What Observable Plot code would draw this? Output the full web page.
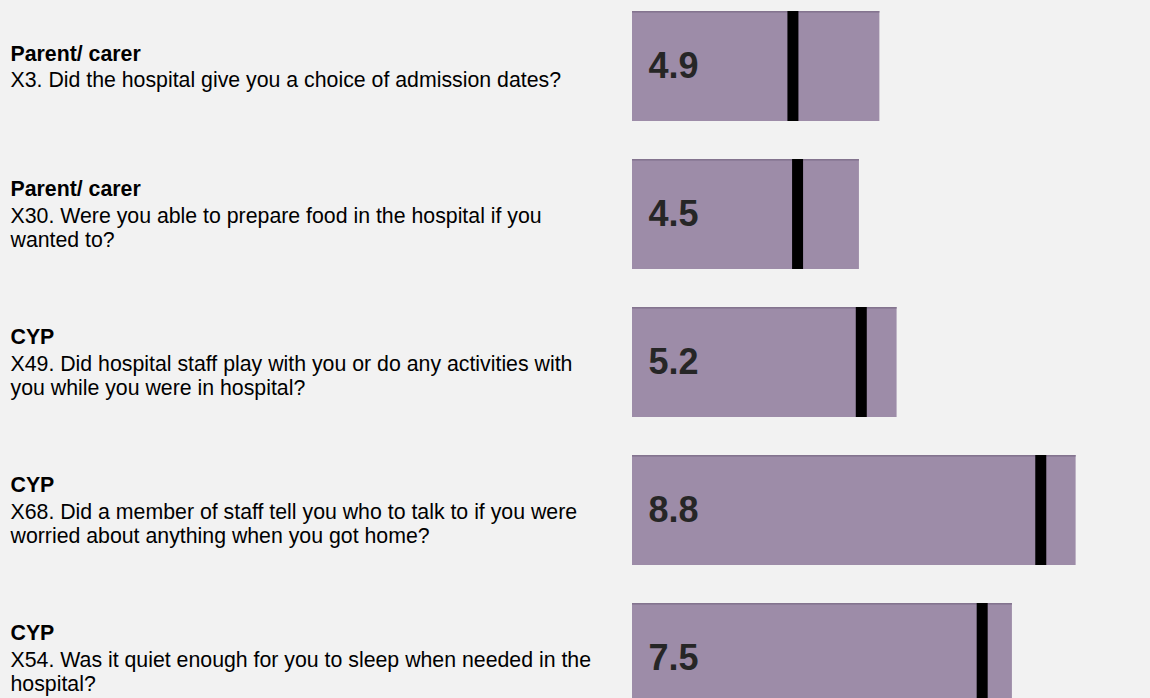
<!DOCTYPE html>
<html>
<head>
<meta charset="utf-8">
<script src="https://cdn.jsdelivr.net/npm/d3@7"></script>
<script src="https://cdn.jsdelivr.net/npm/@observablehq/plot@0.6"></script>
<style>
  html, body { margin: 0; padding: 0; background: #f2f2f2; overflow: hidden; }
</style>
</head>
<body>
<div id="chart"></div>
<script>
// ---- Data ----
const groups = ["Parent/ carer", "Parent/ carer", "CYP", "CYP", "CYP"];
const questions = [
  "X3. Did the hospital give you a choice of admission dates?",
  "X30. Were you able to prepare food in the hospital if you\nwanted to?",
  "X49. Did hospital staff play with you or do any activities with\nyou while you were in hospital?",
  "X68. Did a member of staff tell you who to talk to if you were\nworried about anything when you got home?",
  "X54. Was it quiet enough for you to sleep when needed in the\nhospital?"
];
const scores = [4.9, 4.5, 5.2, 8.8, 7.5];          // value labels
const rangeMax = [5.32, 4.88, 5.69, 9.54, 8.17];   // bar extent
const markers = [3.45, 3.55, 4.92, 8.78, 7.52];    // black marker position

const rows = groups.map((g, i) => ({
  id: i, group: g, question: questions[i],
  score: scores[i], max: rangeMax[i], marker: markers[i]
}));

// ---- Layout ----
const W = 1150, H = 698;
const marginLeft = 632;
const textLeft = 10;
const dxText = textLeft - marginLeft;
const fontSize = 21.3;
const lineStep = 25;
const fontFam = "'Liberation Sans', Arial, Helvetica, sans-serif";
const step = 148.1, padInner = 0.26;
const bandH = step * (1 - padInner);

const textMarks = [];
rows.forEach(r => {
  const q = r.question.split("\n").length;
  const n = q + 1;
  const catDy = -(n - 1) / 2 * lineStep;
  const qDy = catDy + lineStep + (q - 1) / 2 * lineStep;
  textMarks.push(Plot.text([r], {
    x: 0, y: "id", text: "group", dx: dxText, dy: catDy,
    textAnchor: "start", fontWeight: "bold", fontSize, fill: "#000"
  }));
  textMarks.push(Plot.text([r], {
    x: 0, y: "id", text: "question", dx: dxText, dy: qDy,
    textAnchor: "start", fontSize, fill: "#000", lineHeight: lineStep / fontSize
  }));
});

const chart = Plot.plot({
  width: W,
  height: H,
  marginLeft,
  marginRight: 53,
  marginTop: 0,
  marginBottom: 0,
  style: { background: "#f2f2f2", fontFamily: fontFam },
  x: { domain: [0, 10], axis: null },
  y: {
    type: "band",
    domain: rows.map(d => d.id),
    range: [11, 11 + step * (5 - padInner)],
    paddingInner: padInner,
    paddingOuter: 0,
    axis: null
  },
  marks: [
    Plot.barX(rows, { x1: 0, x2: "max", y: "id", fill: "#9d8ca8" }),
    // thin darker top edge of each bar
    Plot.barX(rows, { x1: 0, x2: "max", y: "id", fill: "#84748f", insetBottom: bandH - 1.2 }),
    Plot.tickX(rows, { x: "marker", y: "id", stroke: "#000", strokeWidth: 11 }),
    Plot.text(rows, {
      x: 0, y: "id", text: d => d.score.toFixed(1), dx: 16,
      textAnchor: "start", fontSize: 36, fontWeight: "bold", fill: "#262626"
    }),
    ...textMarks
  ]
});
document.getElementById("chart").appendChild(chart);
</script>
</body>
</html>
